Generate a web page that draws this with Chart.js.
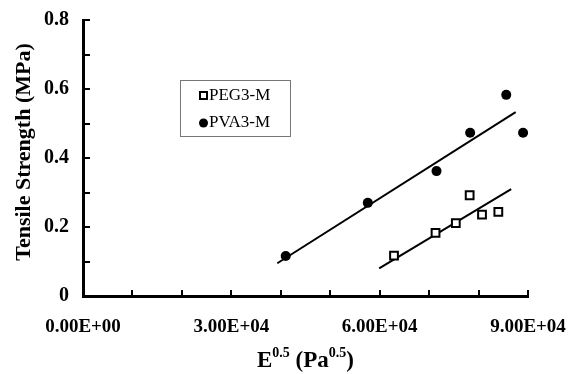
<!DOCTYPE html>
<html>
<head>
<meta charset="utf-8">
<script src="https://cdn.jsdelivr.net/npm/chart.js@4/dist/chart.umd.min.js"></script>
<style>
html,body{margin:0;padding:0;background:#fff;}
#wrap{width:572px;height:374px;position:relative;}
</style>
</head>
<body>
<div id="wrap"><canvas id="c" width="572" height="374"></canvas></div>
<script>
// Data
const pegX = [62900, 71300, 75400, 78200, 80700, 84000];
const pegY = [0.117, 0.183, 0.211, 0.292, 0.236, 0.244];
const pvaX = [41000, 57600, 71500, 78300, 85600, 89000];
const pvaY = [0.116, 0.270, 0.362, 0.473, 0.583, 0.473];
const pegFitX = [59900, 86600];
const pegFitY = [0.080, 0.310];
const pvaFitX = [39300, 87500];
const pvaFitY = [0.095, 0.533];
const seriesNames = ['PEG3-M', 'PVA3-M'];
const yTickLabels = ['0', '0.2', '0.4', '0.6', '0.8'];
const xTickLabels = ['0.00E+00', '3.00E+04', '6.00E+04', '9.00E+04'];
const xTitle = [['E', false], ['0.5', true], [' (Pa', false], ['0.5', true], [')', false]];
const yTitle = 'Tensile Strength (MPa)';

const pts = (xs, ys) => xs.map((x, i) => ({x: x, y: ys[i]}));
const SERIF = '"Liberation Serif","Times New Roman",serif';

const innerTicks = {
  id: 'innerTicks',
  afterDraw(chart) {
    const ctx = chart.ctx;
    const xs = chart.scales.x, ys = chart.scales.y;
    const area = chart.chartArea;
    ctx.save();
    ctx.strokeStyle = '#000';
    ctx.lineWidth = 2;
    xs.ticks.forEach(t => {
      const px = Math.round(xs.getPixelForValue(t.value));
      ctx.beginPath(); ctx.moveTo(px, area.bottom); ctx.lineTo(px, area.bottom - 6); ctx.stroke();
    });
    ys.ticks.forEach(t => {
      const py = Math.round(ys.getPixelForValue(t.value));
      ctx.beginPath(); ctx.moveTo(area.left, py); ctx.lineTo(area.left + 7, py); ctx.stroke();
    });
    // titles
    ctx.fillStyle = '#000';
    ctx.save();
    ctx.translate(30, 152);
    ctx.rotate(-Math.PI / 2);
    ctx.font = 'bold 22px ' + SERIF;
    ctx.textAlign = 'center';
    ctx.textBaseline = 'alphabetic';
    ctx.fillText(yTitle, 0, 0);
    ctx.restore();
    const big = 'bold 23px ' + SERIF, small = 'bold 14px ' + SERIF;
    let total = 0;
    xTitle.forEach(([s, sup]) => { ctx.font = sup ? small : big; total += ctx.measureText(s).width; });
    let cx = (area.left + area.right) / 2 - total / 2;
    ctx.textAlign = 'left';
    xTitle.forEach(([s, sup]) => {
      ctx.font = sup ? small : big;
      ctx.fillText(s, cx, sup ? 357 : 367);
      cx += ctx.measureText(s).width;
    });
    // legend
    ctx.strokeStyle = '#777';
    ctx.lineWidth = 1;
    ctx.strokeRect(180.5, 80.5, 110, 56);
    ctx.font = '17px ' + SERIF;
    ctx.textBaseline = 'middle';
    ctx.fillText(seriesNames[0], 209, 96);
    ctx.fillText(seriesNames[1], 209, 123);
    ctx.strokeStyle = '#000';
    ctx.lineWidth = 2;
    ctx.fillStyle = '#fff';
    ctx.fillRect(200, 92, 7, 7);
    ctx.strokeRect(200, 92, 7, 7);
    ctx.fillStyle = '#000';
    ctx.beginPath(); ctx.arc(203.5, 123, 4.5, 0, Math.PI * 2); ctx.fill();
    ctx.restore();
  }
};

function fmtX(v) {
  const idx = Math.round(v / 30000);
  return xTickLabels[idx] || '';
}

new Chart(document.getElementById('c'), {
  type: 'scatter',
  data: {
    datasets: [
      {label: seriesNames[0], data: pts(pegX, pegY), pointStyle: 'rect', pointRadius: 5.5,
       backgroundColor: '#fff', borderColor: '#000', borderWidth: 2, order: 1},
      {label: seriesNames[1], data: pts(pvaX, pvaY), pointStyle: 'circle', pointRadius: 5,
       backgroundColor: '#000', borderColor: '#000', borderWidth: 0, order: 1},
      {type: 'line', label: 'fit1', data: pts(pegFitX, pegFitY), borderColor: '#000', borderWidth: 2,
       pointRadius: 0, showLine: true, fill: false, order: 2},
      {type: 'line', label: 'fit2', data: pts(pvaFitX, pvaFitY), borderColor: '#000', borderWidth: 2,
       pointRadius: 0, showLine: true, fill: false, order: 2}
    ]
  },
  options: {
    responsive: false,
    animation: false,
    devicePixelRatio: 1,
    layout: {padding: {top: 20, right: 44, left: 0, bottom: 0}},
    plugins: {legend: {display: false}, tooltip: {enabled: false}},
    scales: {
      x: {
        type: 'linear', min: 0, max: 90000,
        afterFit(s) { s.height = 78; s.paddingLeft = 0; s.paddingRight = 0; },
        grid: {display: false, drawTicks: false},
        border: {display: true, color: '#000', width: 3},
        ticks: {stepSize: 10000, padding: 20, color: '#000', maxRotation: 0, autoSkip: false,
          font: {family: SERIF, size: 19, weight: 'bold'},
          callback: (v) => (v % 30000 === 0 ? fmtX(v) : '')}
      },
      y: {
        type: 'linear', min: 0, max: 0.8,
        afterFit(s) { s.width = 83; s.paddingTop = 0; s.paddingBottom = 0; },
        grid: {display: false, drawTicks: false},
        border: {display: true, color: '#000', width: 3},
        ticks: {stepSize: 0.1, padding: 14, color: '#000', autoSkip: false,
          font: {family: SERIF, size: 20, weight: 'bold'},
          callback: (v) => {
            const i = Math.round(v * 10);
            return i % 2 === 0 ? yTickLabels[i / 2] : '';
          }}
      }
    }
  },
  plugins: [innerTicks]
});
</script>
</body>
</html>
